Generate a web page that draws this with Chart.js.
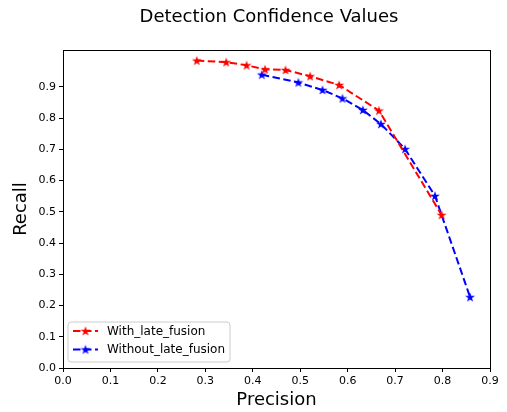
<!DOCTYPE html>
<html>
<head>
<meta charset="utf-8">
<script src="https://cdn.jsdelivr.net/npm/chart.js@4.4.0/dist/chart.umd.min.js"></script>
<style>
html,body{margin:0;padding:0;background:#fff;}
#wrap{position:relative;width:507px;height:412px;}
</style>
</head>
<body>
<div id="wrap"><canvas id="c" width="507" height="412"></canvas></div>
<script>
const chartTitle = "Detection Confidence Values";
const xTitle = "Precision";
const yTitle = "Recall";
const seriesNames = ["With_late_fusion", "Without_late_fusion"];

const withPrecision = [0.282, 0.344, 0.387, 0.426, 0.469, 0.521, 0.582, 0.666, 0.798];
const withRecall    = [0.984, 0.979, 0.969, 0.956, 0.954, 0.934, 0.906, 0.824, 0.490];

const withoutPrecision = [0.419, 0.496, 0.547, 0.589, 0.632, 0.670, 0.721, 0.784, 0.858];
const withoutRecall    = [0.939, 0.914, 0.890, 0.863, 0.826, 0.781, 0.701, 0.551, 0.227];

const xTicks = [0.0, 0.1, 0.2, 0.3, 0.4, 0.5, 0.6, 0.7, 0.8, 0.9];
const yTicks = [0.0, 0.1, 0.2, 0.3, 0.4, 0.5, 0.6, 0.7, 0.8, 0.9];

const FONT = "'DejaVu Sans', sans-serif";
Chart.defaults.font.family = FONT;
Chart.defaults.color = '#000';

function makeStar(color) {
  const size = 12;
  const c = document.createElement('canvas');
  c.width = size; c.height = size;
  const g = c.getContext('2d');
  const cx = size / 2, cy = size / 2 + 0.4;
  const R = 5.2, r = R * 0.382;
  g.beginPath();
  for (let i = 0; i < 10; i++) {
    const ang = -Math.PI / 2 + i * Math.PI / 5;
    const rad = i % 2 === 0 ? R : r;
    const px = cx + rad * Math.cos(ang), py = cy + rad * Math.sin(ang);
    if (i === 0) g.moveTo(px, py); else g.lineTo(px, py);
  }
  g.closePath();
  g.fillStyle = color;
  g.fill();
  return c;
}
const redStar = makeStar('#ff0000');
const blueStar = makeStar('#0000ff');

function toPts(xs, ys) { return xs.map((x, i) => ({x: x, y: ys[i]})); }

const DASH = [7.5, 3.5];

const framePlugin = {
  id: 'frame',
  afterDraw(chart) {
    const {ctx, chartArea: a} = chart;
    ctx.save();
    ctx.strokeStyle = '#000';
    ctx.lineWidth = 1;
    ctx.strokeRect(Math.round(a.left) + 0.5, Math.round(a.top) + 0.5,
                   Math.round(a.right - a.left), Math.round(a.bottom - a.top));
    // title
    ctx.fillStyle = '#000';
    ctx.font = "18px " + FONT;
    ctx.textAlign = 'center';
    ctx.textBaseline = 'middle';
    ctx.fillText(chartTitle, 269, 17);
    // legend
    const lx = 68, ly = 322, lw = 162, lh = 40, rr = 3;
    ctx.beginPath();
    ctx.moveTo(lx + rr, ly);
    ctx.lineTo(lx + lw - rr, ly);
    ctx.quadraticCurveTo(lx + lw, ly, lx + lw, ly + rr);
    ctx.lineTo(lx + lw, ly + lh - rr);
    ctx.quadraticCurveTo(lx + lw, ly + lh, lx + lw - rr, ly + lh);
    ctx.lineTo(lx + rr, ly + lh);
    ctx.quadraticCurveTo(lx, ly + lh, lx, ly + lh - rr);
    ctx.lineTo(lx, ly + rr);
    ctx.quadraticCurveTo(lx, ly, lx + rr, ly);
    ctx.closePath();
    ctx.fillStyle = 'rgba(255,255,255,0.8)';
    ctx.fill();
    ctx.strokeStyle = '#cccccc';
    ctx.lineWidth = 1;
    ctx.stroke();
    const rows = [331, 349.5];
    chart.data.datasets.forEach((ds, i) => {
      const y = rows[i];
      ctx.save();
      ctx.strokeStyle = ds.borderColor;
      ctx.lineWidth = 2;
      ctx.setLineDash(DASH);
      ctx.beginPath();
      ctx.moveTo(73, y);
      ctx.lineTo(98, y);
      ctx.stroke();
      ctx.restore();
      const img = ds.pointStyle;
      ctx.drawImage(img, 85.5 - img.width / 2, y - img.height / 2);
      ctx.fillStyle = '#000';
      ctx.font = "12px " + FONT;
      ctx.textAlign = 'left';
      ctx.textBaseline = 'middle';
      ctx.fillText(ds.label, 107, y + 0.5);
    });
    ctx.restore();
  }
};

new Chart(document.getElementById('c'), {
  type: 'scatter',
  data: {
    datasets: [
      {
        label: seriesNames[0],
        data: toPts(withPrecision, withRecall),
        showLine: true,
        borderColor: '#ff0000',
        backgroundColor: '#ff0000',
        borderWidth: 2,
        borderDash: DASH,
        pointStyle: redStar,
        pointRadius: 6,
        fill: false,
        tension: 0
      },
      {
        label: seriesNames[1],
        data: toPts(withoutPrecision, withoutRecall),
        showLine: true,
        borderColor: '#0000ff',
        backgroundColor: '#0000ff',
        borderWidth: 2,
        borderDash: DASH,
        pointStyle: blueStar,
        pointRadius: 6,
        fill: false,
        tension: 0
      }
    ]
  },
  options: {
    responsive: false,
    animation: false,
    layout: {padding: {left: 0, right: 17, top: 50, bottom: 0}},
    plugins: {
      legend: {display: false},
      title: {display: false},
      tooltip: {enabled: false}
    },
    scales: {
      x: {
        type: 'linear',
        min: 0, max: 0.9,
        afterFit(s) { s.height = 44; },
        afterBuildTicks(s) { s.ticks = xTicks.map(v => ({value: v})); },
        ticks: {
          font: {size: 11},
          padding: 3,
          maxRotation: 0,
          autoSkip: false,
          callback: v => Number(v).toFixed(1)
        },
        grid: {drawOnChartArea: false, drawTicks: true, tickLength: 4, color: '#000'},
        border: {display: true, color: '#000', width: 1},
        title: {display: true, text: xTitle, font: {size: 18}, padding: {top: 0, bottom: 1}}
      },
      y: {
        type: 'linear',
        min: 0, max: 1.018,
        afterFit(s) { s.width = 63; },
        afterBuildTicks(s) { s.ticks = yTicks.map(v => ({value: v})); },
        ticks: {
          font: {size: 11},
          padding: 3,
          autoSkip: false,
          callback: v => Number(v).toFixed(1)
        },
        grid: {drawOnChartArea: false, drawTicks: true, tickLength: 4, color: '#000'},
        border: {display: true, color: '#000', width: 1},
        title: {display: true, text: yTitle, font: {size: 18}, padding: {top: 11, bottom: 0}}
      }
    }
  },
  plugins: [framePlugin]
});
</script>
</body>
</html>
